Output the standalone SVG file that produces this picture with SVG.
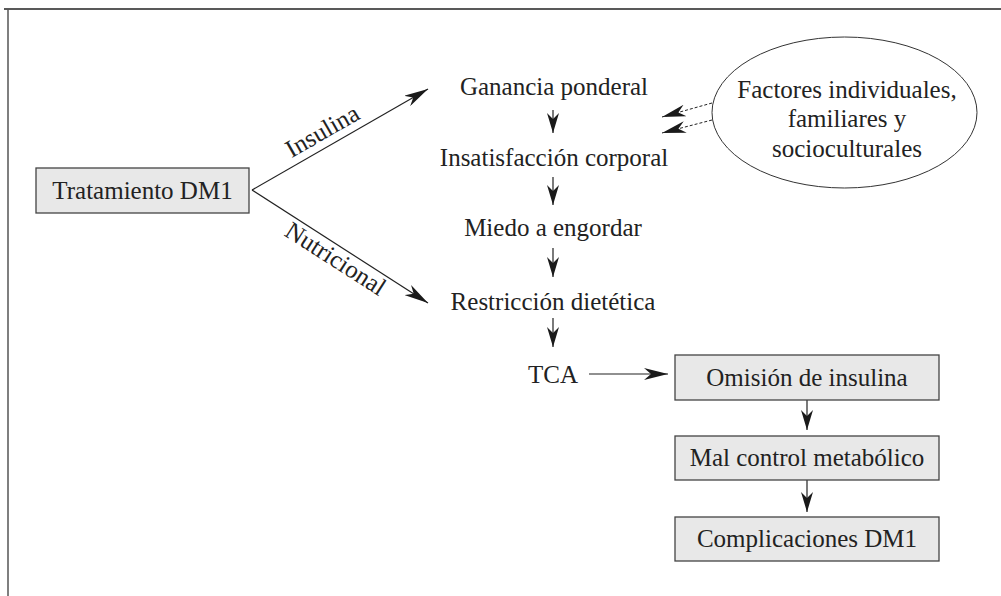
<svg xmlns="http://www.w3.org/2000/svg" width="1001" height="596" viewBox="0 0 1001 596">
<defs>
<style>
text{font-family:"Liberation Serif","Times New Roman",serif;font-size:25px;fill:#222;text-anchor:middle}
.box{fill:#e8e8e8;stroke:#444;stroke-width:1.3}
.ln{stroke:#222;stroke-width:1.2;fill:none}
.dash{stroke:#222;stroke-width:1;stroke-dasharray:3 2;fill:none}
</style>
<marker id="ah" viewBox="0 0 20 12" refX="20" refY="6" markerWidth="20" markerHeight="12" markerUnits="userSpaceOnUse" orient="auto">
<path d="M0,0 L20,6 L0,12 L6,6 Z" fill="#1a1a1a"/>
</marker>
<marker id="ahb" viewBox="0 0 24 12" refX="24" refY="6" markerWidth="24" markerHeight="12" markerUnits="userSpaceOnUse" orient="auto">
<path d="M0,0 L24,6 L0,12 L7,6 Z" fill="#1a1a1a"/>
</marker>
</defs>
<rect width="1001" height="596" fill="#fff"/>
<g id="frame">
<line x1="4" y1="9" x2="1001" y2="9" stroke="#222" stroke-width="1.5"/>
<line x1="8" y1="9" x2="8" y2="596" stroke="#555" stroke-width="1.5"/>
</g>
<g id="connectors">
<line class="ln" x1="252" y1="190" x2="428" y2="89" marker-end="url(#ahb)"/>
<line class="ln" x1="252" y1="190" x2="428" y2="303" marker-end="url(#ahb)"/>
<line class="ln" x1="553" y1="110" x2="553" y2="133" marker-end="url(#ah)"/>
<line class="ln" x1="553" y1="177" x2="553" y2="205" marker-end="url(#ah)"/>
<line class="ln" x1="553" y1="248" x2="553" y2="277" marker-end="url(#ah)"/>
<line class="ln" x1="553" y1="318" x2="553" y2="347" marker-end="url(#ah)"/>
<line class="ln" x1="589" y1="374" x2="668" y2="374" marker-end="url(#ahb)"/>
<line class="ln" x1="807" y1="400" x2="807" y2="430" marker-end="url(#ah)"/>
<line class="ln" x1="807" y1="480" x2="807" y2="512" marker-end="url(#ah)"/>
<line class="dash" x1="712" y1="103" x2="662" y2="117" marker-end="url(#ahb)"/>
<line class="dash" x1="712" y1="120" x2="662" y2="133" marker-end="url(#ahb)"/>
<text transform="translate(326.4,138.2) rotate(-29.85)">Insulina</text>
<text transform="translate(331.2,265.8) rotate(32.7)">Nutricional</text>
</g>
<g id="n-tratamiento">
<rect class="box" x="36" y="168" width="213" height="45"/>
<text x="142.5" y="199">Tratamiento DM1</text>
</g>
<g id="n-ganancia"><text x="554" y="95">Ganancia ponderal</text></g>
<g id="n-insatisfaccion"><text x="554" y="166">Insatisfacción corporal</text></g>
<g id="n-miedo"><text x="553" y="236">Miedo a engordar</text></g>
<g id="n-restriccion"><text x="553" y="310">Restricción dietética</text></g>
<g id="n-tca"><text x="553" y="383">TCA</text></g>
<g id="n-factores">
<ellipse cx="844.5" cy="112.5" rx="132.5" ry="75.5" fill="#fff" stroke="#333" stroke-width="1"/>
<text x="847" y="98">Factores individuales,</text>
<text x="847" y="127">familiares y</text>
<text x="847" y="157">socioculturales</text>
</g>
<g id="n-omision">
<rect class="box" x="675" y="355" width="264" height="45"/>
<text x="807" y="386">Omisión de insulina</text>
</g>
<g id="n-malcontrol">
<rect class="box" x="675" y="436" width="264" height="44"/>
<text x="807" y="466">Mal control metabólico</text>
</g>
<g id="n-complicaciones">
<rect class="box" x="675" y="517" width="264" height="44"/>
<text x="807" y="547">Complicaciones DM1</text>
</g>
</svg>
